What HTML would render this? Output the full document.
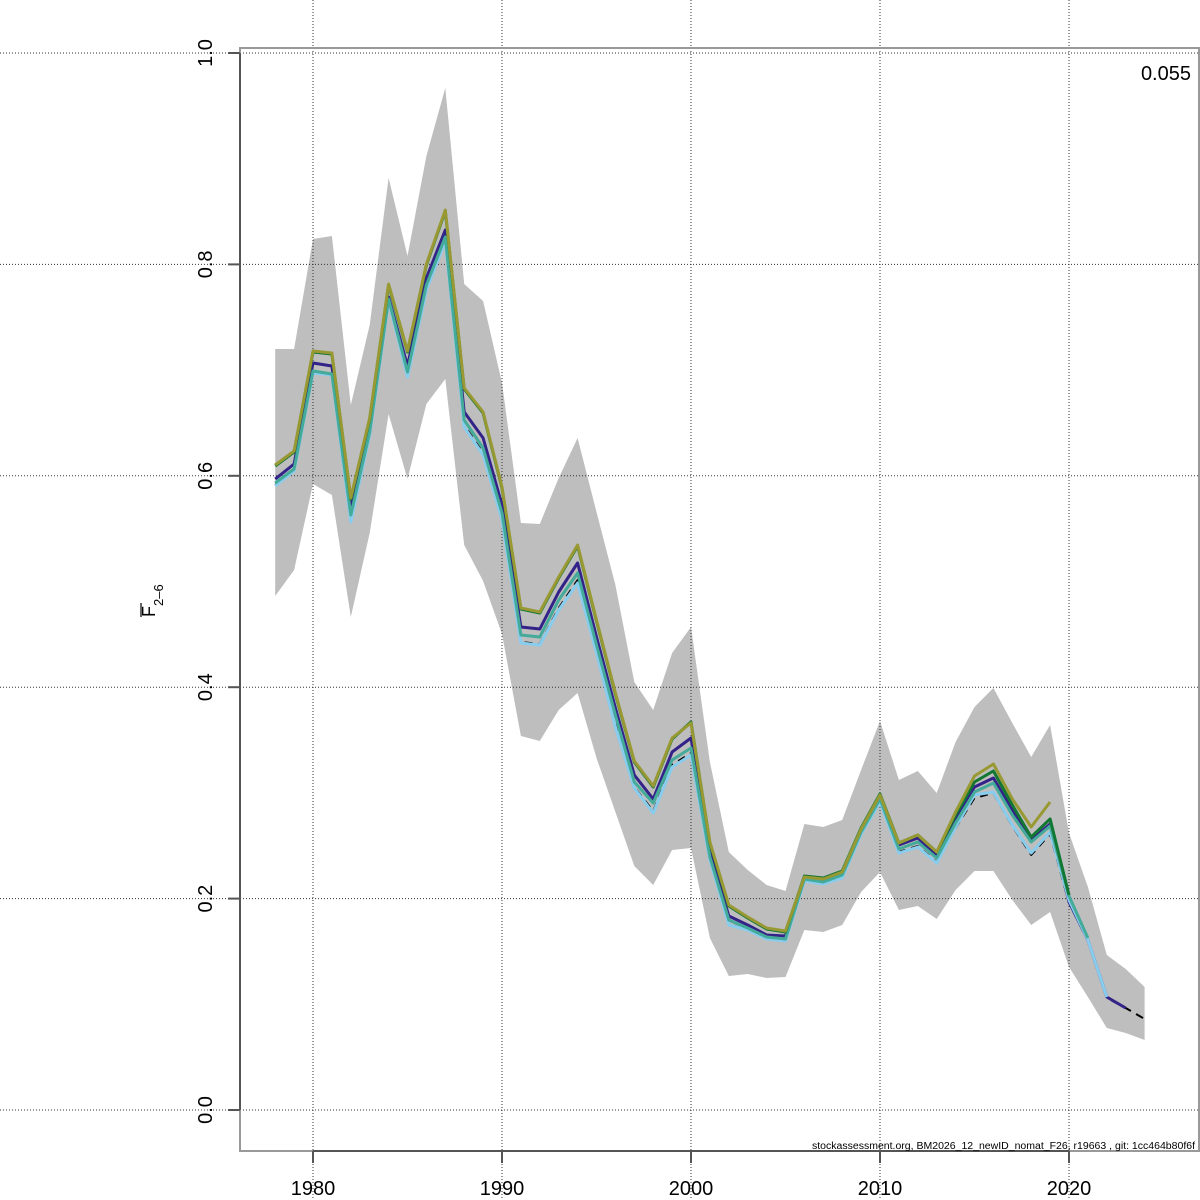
<!DOCTYPE html>
<html>
<head>
<meta charset="utf-8">
<style>
html,body{margin:0;padding:0;background:#fff;}
svg{display:block;}
text{font-family:"Liberation Sans", Arial, sans-serif;fill:#000;}
</style>
</head>
<body>
<svg width="1200" height="1200" viewBox="0 0 1200 1200" xmlns="http://www.w3.org/2000/svg">
<rect x="0" y="0" width="1200" height="1200" fill="#fff"/>

<!-- confidence band -->
<polygon fill="#bebebe" stroke="none" points="275.2,349 294.1,349 313,239 331.9,236 350.8,405 369.7,325 388.6,178 407.5,256 426.4,156 445.3,88 464.2,284 483.1,301 502,383 520.9,523 539.8,524 558.7,478 577.6,438 596.5,512 615.4,585 634.3,682 653.2,710 672.1,653 691,627 709.9,762 728.8,852 747.7,870 766.6,885 785.5,891 804.4,824 823.3,827 842.2,820 861.1,770 880,721 898.9,780 917.8,771 936.7,793 955.6,742 974.5,707 993.4,688 1012.3,723 1031.2,757 1050.1,725 1069,833 1087.9,887 1106.8,955 1125.7,969 1144.6,987 1144.6,1040 1125.7,1033 1106.8,1028 1087.9,997 1069,967 1050.1,912 1031.2,925 1012.3,900 993.4,871 974.5,871 955.6,890 936.7,919 917.8,906 898.9,910 880,872 861.1,892 842.2,925 823.3,932 804.4,930 785.5,977 766.6,978 747.7,974 728.8,976 709.9,938 691,848 672.1,850 653.2,885 634.3,866 615.4,812 596.5,758 577.6,693 558.7,710 539.8,741 520.9,736 502,634 483.1,581 464.2,545 445.3,379 426.4,404 407.5,479 388.6,414 369.7,533 350.8,617 331.9,495 313,484 294.1,570 275.2,596"/>

<!-- grid -->
<g stroke="#333" stroke-width="1" stroke-dasharray="1,2" fill="none">
<line x1="0" y1="53" x2="1200" y2="53"/>
<line x1="0" y1="264.4" x2="1200" y2="264.4"/>
<line x1="0" y1="475.8" x2="1200" y2="475.8"/>
<line x1="0" y1="687.2" x2="1200" y2="687.2"/>
<line x1="0" y1="898.6" x2="1200" y2="898.6"/>
<line x1="0" y1="1110" x2="1200" y2="1110"/>
<line x1="313" y1="0" x2="313" y2="1200"/>
<line x1="502" y1="0" x2="502" y2="1200"/>
<line x1="691" y1="0" x2="691" y2="1200"/>
<line x1="880" y1="0" x2="880" y2="1200"/>
<line x1="1069" y1="0" x2="1069" y2="1200"/>
</g>

<!-- series -->
<g fill="none" stroke-linejoin="round" stroke-linecap="butt">
<polyline stroke="#000" stroke-width="2" stroke-dasharray="8,6" points="275.2,485 294.1,470 313,372 331.9,374 350.8,520 369.7,434 388.6,300 407.5,375 426.4,288 445.3,240 464.2,425 483.1,453 502,518 520.9,642 539.8,644 558.7,608 577.6,580 596.5,651 615.4,724 634.3,787 653.2,811 672.1,765 691,753 709.9,859 728.8,924 747.7,930 766.6,938 785.5,940 804.4,880 823.3,883 842.2,877 861.1,833 880,801 898.9,852 917.8,846 936.7,862 955.6,828 974.5,798 993.4,793 1012.3,826 1031.2,855 1050.1,834 1069,903 1087.9,941 1106.8,998 1125.7,1008 1144.6,1019"/>
<polyline stroke="#332288" stroke-width="3" points="275.2,479 294.1,464 313,363 331.9,366 350.8,507 369.7,428 388.6,297 407.5,366 426.4,278 445.3,230 464.2,412 483.1,438 502,505 520.9,627 539.8,629 558.7,592 577.6,563 596.5,637 615.4,708 634.3,775 653.2,799 672.1,752 691,738 709.9,852 728.8,916 747.7,925 766.6,935 785.5,936 804.4,878 823.3,881 842.2,874 861.1,830 880,797 898.9,845 917.8,838 936.7,855 955.6,818 974.5,787 993.4,778 1012.3,810 1031.2,840 1050.1,824 1069,902 1087.9,940 1106.8,997 1125.7,1008"/>
<polyline stroke="#88CCEE" stroke-width="3" points="275.2,486 294.1,471 313,373 331.9,375 350.8,522 369.7,435 388.6,301 407.5,377 426.4,290 445.3,241 464.2,427 483.1,455 502,520 520.9,643 539.8,645 558.7,610 577.6,583 596.5,653 615.4,727 634.3,788 653.2,813 672.1,767 691,755 709.9,860 728.8,925 747.7,930 766.6,939 785.5,941 804.4,881 823.3,884 842.2,878 861.1,834 880,802 898.9,853 917.8,847 936.7,863 955.6,827 974.5,795 993.4,792 1012.3,825 1031.2,853 1050.1,832 1069,900 1087.9,940 1106.8,997"/>
<polyline stroke="#44AA99" stroke-width="3" points="275.2,483 294.1,469 313,371 331.9,374 350.8,515 369.7,432 388.6,299 407.5,372 426.4,285 445.3,237 464.2,420 483.1,448 502,513 520.9,635 539.8,637 558.7,600 577.6,573 596.5,645 615.4,715 634.3,782 653.2,803 672.1,760 691,748 709.9,857 728.8,920 747.7,928 766.6,937 785.5,939 804.4,879 823.3,882 842.2,875 861.1,832 880,799 898.9,849 917.8,842 936.7,858 955.6,823 974.5,792 993.4,783 1012.3,815 1031.2,842 1050.1,826 1069,896 1087.9,938"/>
<polyline stroke="#117733" stroke-width="3" points="275.2,466 294.1,452 313,352 331.9,354 350.8,499 369.7,419 388.6,285 407.5,352 426.4,265 445.3,211 464.2,389 483.1,413 502,488 520.9,609 539.8,613 558.7,578 577.6,546 596.5,621 615.4,694 634.3,762 653.2,787 672.1,739 691,722 709.9,843 728.8,906 747.7,918 766.6,929 785.5,932 804.4,876 823.3,878 842.2,871 861.1,828 880,794 898.9,843 917.8,835 936.7,852 955.6,815 974.5,782 993.4,771 1012.3,805 1031.2,837 1050.1,819 1069,895"/>
<polyline stroke="#999933" stroke-width="3" points="275.2,465 294.1,451 313,351 331.9,353 350.8,498 369.7,418 388.6,284 407.5,351 426.4,264 445.3,210 464.2,388 483.1,412 502,487 520.9,608 539.8,612 558.7,577 577.6,545 596.5,620 615.4,693 634.3,761 653.2,786 672.1,738 691,723 709.9,842 728.8,905 747.7,917 766.6,928 785.5,931 804.4,877 823.3,879 842.2,872 861.1,829 880,795 898.9,843 917.8,835 936.7,852 955.6,812 974.5,776 993.4,764 1012.3,799 1031.2,827 1050.1,802"/>
</g>

<!-- box -->
<rect x="240" y="48" width="959" height="1103" fill="none" stroke="#999" stroke-width="2"/>
<!-- axes -->
<g stroke="#555" stroke-width="2" fill="none">
<line x1="240" y1="53" x2="240" y2="1110"/>
<line x1="228" y1="53" x2="240" y2="53"/>
<line x1="228" y1="264.4" x2="240" y2="264.4"/>
<line x1="228" y1="475.8" x2="240" y2="475.8"/>
<line x1="228" y1="687.2" x2="240" y2="687.2"/>
<line x1="228" y1="898.6" x2="240" y2="898.6"/>
<line x1="228" y1="1110" x2="240" y2="1110"/>
<line x1="313" y1="1151" x2="1069" y2="1151"/>
<line x1="313" y1="1151" x2="313" y2="1163"/>
<line x1="502" y1="1151" x2="502" y2="1163"/>
<line x1="691" y1="1151" x2="691" y2="1163"/>
<line x1="880" y1="1151" x2="880" y2="1163"/>
<line x1="1069" y1="1151" x2="1069" y2="1163"/>
</g>

<!-- y tick labels -->
<g font-size="20" text-anchor="middle">
<text transform="translate(212,53) rotate(-90)">1.0</text>
<text transform="translate(212,264.4) rotate(-90)">0.8</text>
<text transform="translate(212,475.8) rotate(-90)">0.6</text>
<text transform="translate(212,687.2) rotate(-90)">0.4</text>
<text transform="translate(212,898.6) rotate(-90)">0.2</text>
<text transform="translate(212,1110) rotate(-90)">0.0</text>
</g>

<!-- x tick labels -->
<g font-size="20" text-anchor="middle">
<text x="313" y="1195">1980</text>
<text x="502" y="1195">1990</text>
<text x="691" y="1195">2000</text>
<text x="880" y="1195">2010</text>
<text x="1069" y="1195">2020</text>
</g>

<!-- y axis title -->
<text transform="translate(155,617) rotate(-90)" font-size="18">F<tspan font-size="13" dy="8">2–6</tspan></text>
<line x1="141" y1="603" x2="141" y2="617" stroke="#000" stroke-width="1.2"/>

<!-- annotation -->
<text x="1191" y="80" font-size="20" text-anchor="end">0.055</text>

<!-- footer -->
<text x="1195" y="1149" font-size="10" text-anchor="end" textLength="383" lengthAdjust="spacingAndGlyphs">stockassessment.org, BM2026_12_newID_nomat_F26, r19663 , git: 1cc464b80f6f</text>
</svg>
</body>
</html>
